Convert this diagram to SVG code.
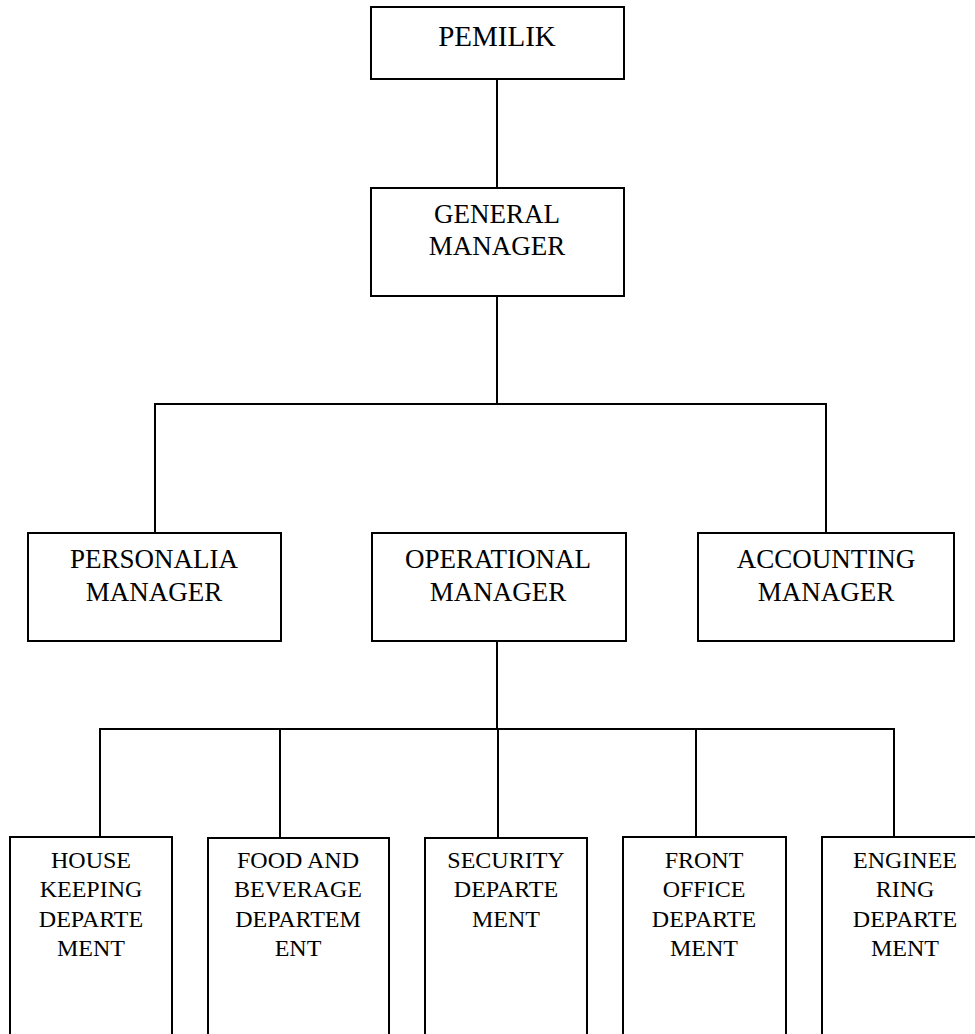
<svg xmlns="http://www.w3.org/2000/svg" width="975" height="1034" viewBox="0 0 975 1034">
<style>
.box{fill:#fff;stroke:#000;stroke-width:2}
.t{font-family:"Liberation Serif","Times New Roman",serif;font-size:27px;fill:#000;text-anchor:middle}
.s{font-family:"Liberation Serif","Times New Roman",serif;font-size:24px;fill:#000;text-anchor:middle}
.c{fill:none;stroke:#000;stroke-width:2}
</style>
<rect width="975" height="1034" fill="#fff"/>
<g id="connectors">
<line class="c" x1="497" y1="79" x2="497" y2="188"/>
<line class="c" x1="497" y1="296" x2="497" y2="405"/>
<polyline class="c" points="155,533 155,404 826,404 826,533"/>
<line class="c" x1="497" y1="641" x2="497" y2="729"/>
<polyline class="c" points="100,837 100,729 894,729 894,837"/>
<line class="c" x1="280" y1="729" x2="280" y2="838"/>
<line class="c" x1="498" y1="729" x2="498" y2="838"/>
<line class="c" x1="696" y1="729" x2="696" y2="837"/>
</g>
<g id="pemilik">
<rect class="box" x="371" y="7" width="253" height="72"/>
<text class="t" x="497" y="46" style="font-size:29px">PEMILIK</text>
</g>
<g id="general-manager">
<rect class="box" x="371" y="188" width="253" height="108"/>
<text class="t" x="497" y="223">GENERAL</text>
<text class="t" x="497" y="255">MANAGER</text>
</g>
<g id="personalia-manager">
<rect class="box" x="28" y="533" width="253" height="108"/>
<text class="t" x="154" y="568">PERSONALIA</text>
<text class="t" x="154" y="601">MANAGER</text>
</g>
<g id="operational-manager">
<rect class="box" x="372" y="533" width="254" height="108"/>
<text class="t" x="498" y="568">OPERATIONAL</text>
<text class="t" x="498" y="601">MANAGER</text>
</g>
<g id="accounting-manager">
<rect class="box" x="698" y="533" width="256" height="108"/>
<text class="t" x="826" y="568">ACCOUNTING</text>
<text class="t" x="826" y="601">MANAGER</text>
</g>
<g id="housekeeping">
<rect class="box" x="10" y="837" width="162" height="220"/>
<text class="s" x="91" y="868">HOUSE</text>
<text class="s" x="91" y="897">KEEPING</text>
<text class="s" x="91" y="927">DEPARTE</text>
<text class="s" x="91" y="956">MENT</text>
</g>
<g id="food-beverage">
<rect class="box" x="208" y="838" width="181" height="220"/>
<text class="s" x="298" y="868">FOOD AND</text>
<text class="s" x="298" y="897">BEVERAGE</text>
<text class="s" x="298" y="927">DEPARTEM</text>
<text class="s" x="298" y="956">ENT</text>
</g>
<g id="security">
<rect class="box" x="425" y="838" width="162" height="220"/>
<text class="s" x="506" y="868">SECURITY</text>
<text class="s" x="506" y="897">DEPARTE</text>
<text class="s" x="506" y="927">MENT</text>
</g>
<g id="front-office">
<rect class="box" x="623" y="837" width="163" height="220"/>
<text class="s" x="704" y="868">FRONT</text>
<text class="s" x="704" y="897">OFFICE</text>
<text class="s" x="704" y="927">DEPARTE</text>
<text class="s" x="704" y="956">MENT</text>
</g>
<g id="engineering">
<rect class="box" x="822" y="837" width="166" height="220"/>
<text class="s" x="905" y="868">ENGINEE</text>
<text class="s" x="905" y="897">RING</text>
<text class="s" x="905" y="927">DEPARTE</text>
<text class="s" x="905" y="956">MENT</text>
</g>
</svg>
